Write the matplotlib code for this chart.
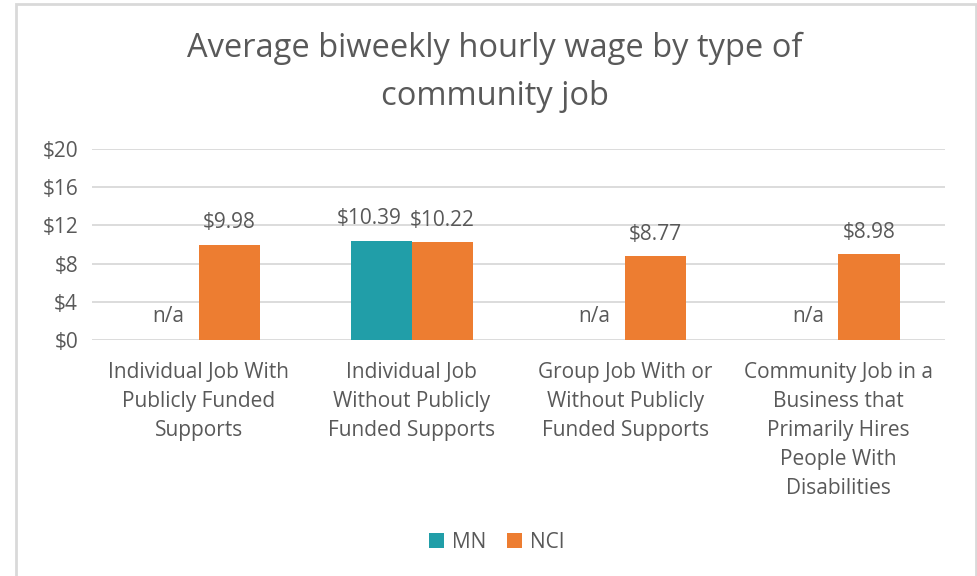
import numpy as np
import matplotlib.pyplot as plt
from matplotlib.patches import Rectangle

categories = [
    "Individual Job With\nPublicly Funded\nSupports",
    "Individual Job\nWithout Publicly\nFunded Supports",
    "Group Job With or\nWithout Publicly\nFunded Supports",
    "Community Job in a\nBusiness that\nPrimarily Hires\nPeople With\nDisabilities",
]
mn = [None, 10.39, None, None]
nci = [9.98, 10.22, 8.77, 8.98]
yticks = [0, 4, 8, 12, 16, 20]

teal = "#219EA8"
orange = "#ED7D31"
txt = "#595959"
plt.rcParams["font.family"] = ["Open Sans", "DejaVu Sans"]
fs = 15

fig = plt.figure(figsize=(9.78, 5.76), dpi=100)
fig.patches.append(Rectangle((16 / 978, -0.1), 960 / 978, 1.1 - 4 / 576,
                             transform=fig.transFigure, fill=False,
                             edgecolor="#D9D9D9", linewidth=2))
ax = fig.add_axes([92 / 978, 1 - 340 / 576, 853 / 978, 191 / 576])

x = np.arange(len(categories))
w = 0.287
mn_vals = [v if v is not None else 0 for v in mn]
b1 = ax.bar(x - w / 2, mn_vals, w, color=teal, label="MN", zorder=3)
b2 = ax.bar(x + w / 2, nci, w, color=orange, label="NCI", zorder=3)

# labels; MN label nudged left like Excel does when it would collide
for i, v in enumerate(mn):
    if v is None:
        ax.text(x[i] - w / 2, 1.4, "n/a", ha="center", va="bottom", fontsize=fs, color=txt)
    else:
        ax.annotate(f"${v:.2f}", (x[i] - w / 2, v + 1.2), xytext=(-9, 0),
                    textcoords="offset points", ha="center", va="bottom",
                    fontsize=fs, color=txt)
for i, v in enumerate(nci):
    ax.text(x[i] + w / 2, v + 1.2, f"${v:.2f}", ha="center", va="bottom", fontsize=fs, color=txt)

ax.set_xlim(-0.5, len(categories) - 0.5)
ax.set_ylim(0, 20)
ax.set_yticks(yticks)
ax.set_yticklabels([f"${t}" for t in yticks], fontsize=fs, color=txt)
ax.set_xticks(x)
ax.set_xticklabels(categories, fontsize=fs, color=txt, linespacing=1.5)
ax.tick_params(length=0, pad=10)
ax.tick_params(axis="x", pad=16)
ax.grid(axis="y", color="#D9D9D9", linewidth=1.3, zorder=0)
for s in ax.spines.values():
    s.set_visible(False)

fig.text(495 / 978, 1 - 72 / 576, "Average biweekly hourly wage by type of\ncommunity job",
         ha="center", va="center", fontsize=23.5, color=txt, linespacing=1.6)

fig.legend(handles=[b1, b2], loc="center", bbox_to_anchor=(497 / 978, 1 - 542 / 576),
           ncol=2, frameon=False, fontsize=fs, labelcolor=txt, handlelength=0.7,
           handleheight=0.7, columnspacing=1.0, handletextpad=0.4)

fig.savefig("out.png", dpi=100)
